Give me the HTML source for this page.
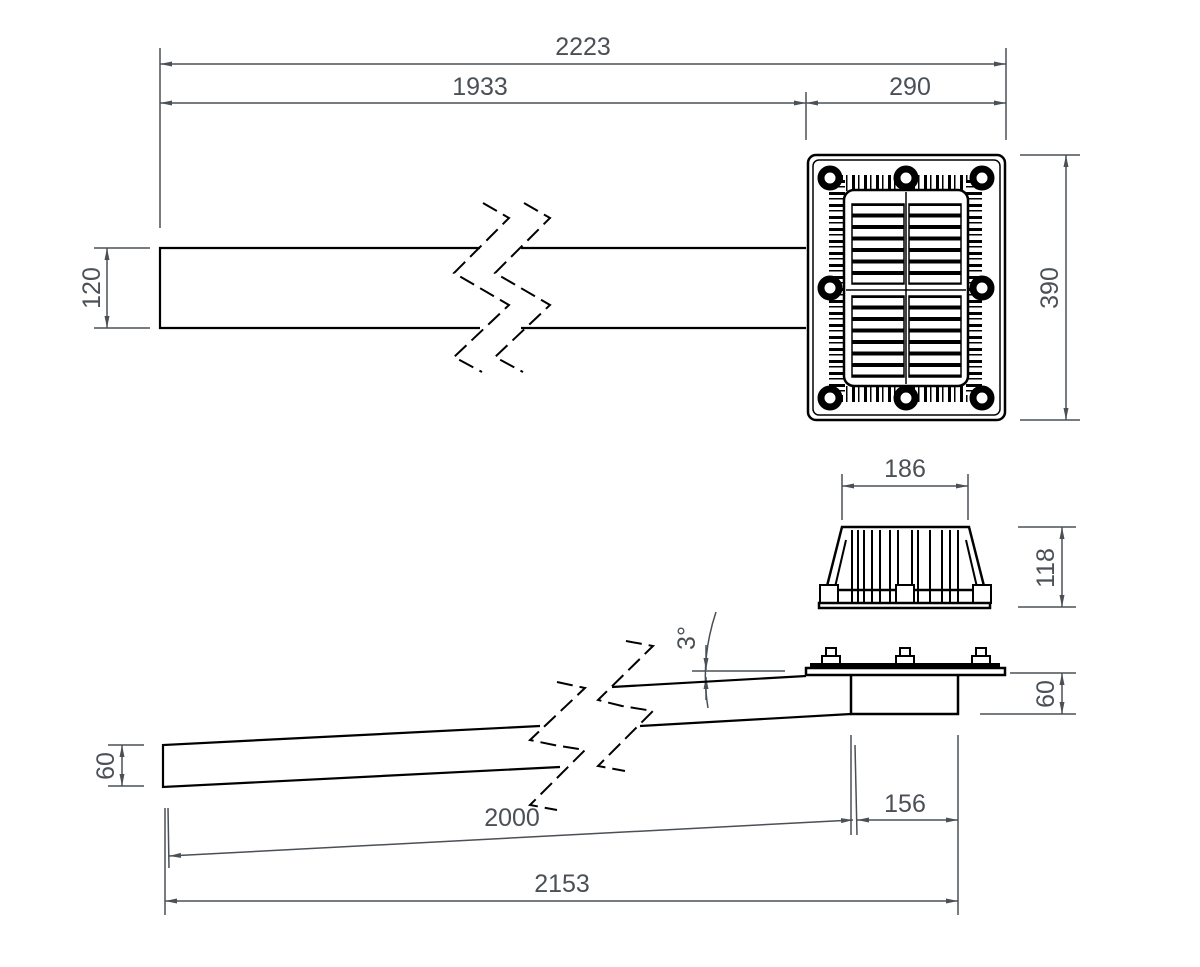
<!DOCTYPE html>
<html><head><meta charset="utf-8"><style>
html,body{margin:0;padding:0;background:#fff;}
svg{display:block;}
text{font-family:"Liberation Sans",sans-serif;font-size:25px;fill:#4a5056;}
</style></head><body>
<svg width="1200" height="967" viewBox="0 0 1200 967" xmlns="http://www.w3.org/2000/svg">
<defs>
<marker id="a" viewBox="0 0 12 6" refX="12" refY="3" markerWidth="12" markerHeight="6" markerUnits="userSpaceOnUse" orient="auto-start-reverse"><path d="M0,0.5 L12,3 L0,5.5z" fill="#4a5056"/></marker>
<pattern id="slots" x="0" y="204" width="60" height="11.5" patternUnits="userSpaceOnUse">
<rect x="0" y="0" width="200" height="11.5" fill="#000"/>
<rect x="0" y="2" width="200" height="7.5" fill="#fff"/>
</pattern>
<pattern id="ribh" x="0" y="0" width="12" height="20" patternUnits="userSpaceOnUse">
<rect width="12" height="20" fill="#fff"/><rect x="0" width="3" height="20" fill="#000"/><rect x="6" width="1.5" height="20" fill="#000"/>
</pattern>
<pattern id="ribv" x="0" y="0" width="20" height="12" patternUnits="userSpaceOnUse">
<rect width="20" height="12" fill="#fff"/><rect y="0" width="20" height="3" fill="#000"/><rect y="6" width="20" height="1.5" fill="#000"/>
</pattern>
</defs>

<g stroke="#4a5056" stroke-width="1.5" fill="none">
<line x1="160" y1="48" x2="160" y2="228"/>
<line x1="1006" y1="48" x2="1006" y2="140"/>
<line x1="806" y1="92" x2="806" y2="140"/>
<line x1="160" y1="64" x2="1006" y2="64" marker-start="url(#a)" marker-end="url(#a)"/>
<line x1="160" y1="103" x2="806" y2="103" marker-start="url(#a)" marker-end="url(#a)"/>
<line x1="806" y1="103" x2="1006" y2="103" marker-start="url(#a)" marker-end="url(#a)"/>
<line x1="1020" y1="155" x2="1080" y2="155"/>
<line x1="1020" y1="420" x2="1080" y2="420"/>
<line x1="1066" y1="155" x2="1066" y2="420" marker-start="url(#a)" marker-end="url(#a)"/>
<line x1="94" y1="248" x2="150" y2="248"/>
<line x1="94" y1="328" x2="150" y2="328"/>
<line x1="107" y1="248" x2="107" y2="328" marker-start="url(#a)" marker-end="url(#a)"/>
<line x1="842" y1="474" x2="842" y2="520"/>
<line x1="968" y1="474" x2="968" y2="520"/>
<line x1="842" y1="486" x2="968" y2="486" marker-start="url(#a)" marker-end="url(#a)"/>
<line x1="1018" y1="527" x2="1076" y2="527"/>
<line x1="1018" y1="607" x2="1076" y2="607"/>
<line x1="1062" y1="527" x2="1062" y2="607" marker-start="url(#a)" marker-end="url(#a)"/>
<line x1="1010" y1="673" x2="1076" y2="673"/>
<line x1="980" y1="714" x2="1076" y2="714"/>
<line x1="1062" y1="673" x2="1062" y2="714" marker-start="url(#a)" marker-end="url(#a)"/>
<line x1="108" y1="745" x2="144" y2="745"/>
<line x1="108" y1="786" x2="144" y2="786"/>
<line x1="122" y1="745" x2="122" y2="786" marker-start="url(#a)" marker-end="url(#a)"/>
<line x1="165" y1="808" x2="165" y2="915"/>
<line x1="168" y1="808" x2="169" y2="868"/>
<line x1="851" y1="735" x2="851" y2="835"/>
<line x1="855" y1="745" x2="857" y2="835"/>
<line x1="958" y1="735" x2="958" y2="915"/>
<line x1="169" y1="856" x2="853" y2="820" marker-start="url(#a)" marker-end="url(#a)"/>
<line x1="857" y1="820" x2="958" y2="820" marker-start="url(#a)" marker-end="url(#a)"/>
<line x1="165" y1="901" x2="958" y2="901" marker-start="url(#a)" marker-end="url(#a)"/>
<line x1="692" y1="671" x2="785" y2="671"/>
<path d="M716,612 Q700,660 708,708"/>
<line x1="706" y1="645" x2="706" y2="670" marker-end="url(#a)"/>
<line x1="706" y1="700" x2="706" y2="677" marker-end="url(#a)"/>
</g>

<g>
<text x="583" y="55" text-anchor="middle">2223</text>
<text x="480" y="95" text-anchor="middle">1933</text>
<text x="910" y="95" text-anchor="middle">290</text>
<text x="905" y="477" text-anchor="middle">186</text>
<text x="905" y="812" text-anchor="middle">156</text>
<text x="512" y="826" text-anchor="middle">2000</text>
<text x="562" y="892" text-anchor="middle">2153</text>
<text transform="translate(1058,288) rotate(-90)" text-anchor="middle">390</text>
<text transform="translate(100,288) rotate(-90)" text-anchor="middle">120</text>
<text transform="translate(1054,568) rotate(-90)" text-anchor="middle">118</text>
<text transform="translate(1054,694) rotate(-90)" text-anchor="middle">60</text>
<text transform="translate(114,766) rotate(-90)" text-anchor="middle">60</text>
<text transform="translate(695,638) rotate(-90)" text-anchor="middle">3°</text>
</g>

<g stroke="#000" stroke-width="2.2" fill="none">
<polyline points="480,248 160,248 160,328 480,328"/>
<line x1="521" y1="248" x2="806" y2="248"/>
<line x1="521" y1="328" x2="806" y2="328"/>
</g>
<g stroke="#000" stroke-width="2" fill="none" stroke-dasharray="16,7">
<polyline points="483,203 509,218 454,273 509,305 454,357 482,372"/>
<polyline points="524,203 550,218 495,273 550,305 495,357 523,372"/>
</g>

<g>
<rect x="808" y="155" width="197" height="265" rx="8" fill="#fff" stroke="#000" stroke-width="2.5"/>
<rect x="813" y="160" width="187" height="255" rx="6" fill="none" stroke="#000" stroke-width="1.5"/>
<rect x="830" y="175" width="152" height="16" fill="url(#ribh)"/>
<rect x="830" y="386" width="152" height="16" fill="url(#ribh)"/>
<rect x="829" y="180" width="16" height="215" fill="url(#ribv)"/>
<rect x="966" y="180" width="16" height="215" fill="url(#ribv)"/>
<rect x="844" y="190" width="124" height="196" rx="10" fill="#fff" stroke="#000" stroke-width="2.5"/>
<rect x="852" y="204" width="52" height="80" fill="url(#slots)" stroke="#000" stroke-width="1.5"/>
<rect x="909" y="204" width="52" height="80" fill="url(#slots)" stroke="#000" stroke-width="1.5"/>
<rect x="852" y="296" width="52" height="81" fill="url(#slots)" stroke="#000" stroke-width="1.5"/>
<rect x="909" y="296" width="52" height="81" fill="url(#slots)" stroke="#000" stroke-width="1.5"/>
<line x1="906" y1="192" x2="906" y2="384" stroke="#000" stroke-width="1.5"/>
<line x1="846" y1="290" x2="966" y2="290" stroke="#000" stroke-width="1.5"/>
<g fill="#fff" stroke="#000" stroke-width="7">
<circle cx="830" cy="178" r="9"/><circle cx="906" cy="178" r="9"/><circle cx="982" cy="178" r="9"/>
<circle cx="830" cy="288" r="9"/><circle cx="982" cy="288" r="9"/>
<circle cx="830" cy="398" r="9"/><circle cx="906" cy="398" r="9"/><circle cx="982" cy="398" r="9"/>
</g>
</g>

<g stroke="#000" fill="none">
<path d="M842,527 L969,527 L985,590 L826,590 Z" stroke-width="2.5" fill="#fff"/>
<g stroke-width="2">
<line x1="852" y1="530" x2="852" y2="604"/><line x1="858" y1="530" x2="858" y2="604"/>
<line x1="864" y1="530" x2="864" y2="604"/><line x1="872" y1="530" x2="872" y2="604"/>
<line x1="880" y1="530" x2="880" y2="604"/><line x1="890" y1="530" x2="890" y2="604"/>
<line x1="898" y1="530" x2="898" y2="590"/><line x1="912" y1="530" x2="912" y2="590"/>
<line x1="918" y1="530" x2="918" y2="604"/><line x1="930" y1="530" x2="930" y2="604"/>
<line x1="942" y1="530" x2="942" y2="604"/><line x1="950" y1="530" x2="950" y2="604"/>
<line x1="958" y1="530" x2="958" y2="604"/>
<line x1="846" y1="540" x2="832" y2="600"/><line x1="966" y1="540" x2="980" y2="600"/>
</g>
<rect x="820" y="585" width="18" height="18" stroke-width="2" fill="#fff"/>
<rect x="896" y="585" width="18" height="18" stroke-width="2" fill="#fff"/>
<rect x="973" y="585" width="18" height="18" stroke-width="2" fill="#fff"/>
<rect x="819" y="603" width="171" height="5" stroke-width="2.5" fill="#fff"/>
</g>

<g stroke="#000" fill="none">
<rect x="806" y="668" width="199" height="7" stroke-width="2.5" fill="#fff"/>
<rect x="810" y="663" width="190" height="5" fill="#000" stroke="none"/>
<g stroke-width="2" fill="#fff">
<rect x="826" y="648" width="10" height="8"/><rect x="822" y="656" width="18" height="8"/>
<rect x="900" y="648" width="10" height="8"/><rect x="896" y="656" width="18" height="8"/>
<rect x="976" y="648" width="10" height="8"/><rect x="972" y="656" width="18" height="8"/>
</g>
<polyline points="851,675 851,714 958,714 958,675" stroke-width="2.5"/>
</g>

<g stroke="#000" stroke-width="2.2" fill="none">
<polyline points="540,726 163,745 163,787 560,767"/>
<line x1="612" y1="687" x2="806" y2="676"/>
<line x1="640" y1="726" x2="851" y2="714"/>
</g>
<g stroke="#000" stroke-width="2" fill="none" stroke-dasharray="16,7">
<polyline points="557,682 585,688 530,740 554,745 585,750 530,805 557,810"/>
<polyline points="626,641 653,646 598,700 622,706 653,711 598,766 625,771"/>
</g>
</svg>
</body></html>
